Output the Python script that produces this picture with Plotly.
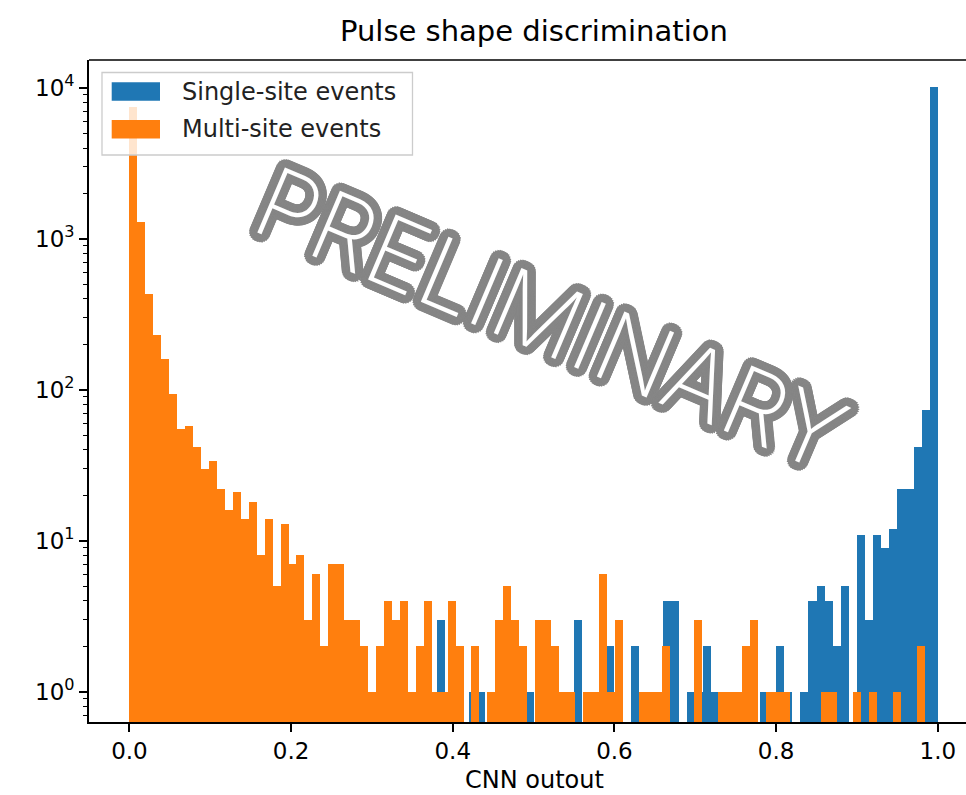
import numpy as np
import plotly.graph_objects as go

# ---------------- data ----------------
N_BINS = 100
single_site_range = (0.0, 1.0)
multi_site_range = (0.0, 0.984)

single_site_counts = [0] * N_BINS
for k, v in {38: 3, 42: 1, 43: 1, 49: 1, 55: 3, 59: 2, 60: 1, 62: 2, 66: 4, 67: 4,
             69: 1, 70: 1, 71: 2, 72: 1, 78: 1, 80: 2, 81: 1, 83: 1, 84: 4, 85: 5,
             86: 4, 87: 2, 88: 5, 90: 11, 91: 3, 92: 11, 93: 9, 94: 12, 95: 22,
             96: 22, 97: 42, 98: 74, 99: 10100}.items():
    single_site_counts[k] = v

multi_site_counts = [
    7500, 1290, 430, 231, 161, 94, 55, 58, 42, 30,
    34, 22, 16, 21, 14, 18, 8, 14, 5, 13,
    7, 8, 3, 6, 2, 7, 7, 3, 3, 2,
    1, 2, 4, 3, 4, 1, 2, 4, 1, 1,
    4, 2, 0, 2, 0, 1, 3, 5, 3, 2,
    0, 3, 3, 2, 1, 1, 0, 1, 1, 6,
    1, 3, 0, 0, 1, 1, 1, 2, 0, 0,
    0, 3, 0, 0, 1, 1, 1, 2, 3, 0,
    1, 1, 1, 0, 0, 0, 0, 1, 1, 0,
    0, 1, 0, 1, 0, 0, 1, 0, 0, 2,
]

series_names = ["Single-site events", "Multi-site events"]
x_tick_vals = [0.0, 0.2, 0.4, 0.6, 0.8, 1.0]
x_tick_text = ["0.0", "0.2", "0.4", "0.6", "0.8", "1.0"]
y_tick_vals = [1, 10, 100, 1000, 10000]
y_tick_text = ["10<sup>0</sup>", "10<sup>1</sup>", "10<sup>2</sup>", "10<sup>3</sup>", "10<sup>4</sup>"]
y_minor_vals = [m * 10 ** e for e in range(-1, 4) for m in range(2, 10) if m * 10 ** e > 0.6]

title_text = "Pulse shape discrimination"
x_label = "CNN outout"
watermark = "PRELIMINARY"

BLUE = "#1f77b4"
ORANGE = "#ff7f0e"
FONT = "DejaVu Sans"

# ---------------- layout geometry ----------------
W, H = 966, 795
ML, MR, MT, MB = 89, 0, 60, 73
PW, PH = W - ML - MR, H - MT - MB


def xp(px):
    return (px - ML) / PW


def yp(py):
    return (H - MB - py) / PH


def hist_bar(counts, rng, color, name):
    edges = np.linspace(rng[0], rng[1], len(counts) + 1)
    width = edges[1] - edges[0]
    y = [c if c > 0 else None for c in counts]
    return go.Bar(x=edges[:-1], y=y, width=width, offset=0, name=name,
                  marker=dict(color=color, line=dict(width=0)), showlegend=False)


fig = go.Figure()
fig.add_trace(hist_bar(single_site_counts, single_site_range, BLUE, series_names[0]))
fig.add_trace(hist_bar(multi_site_counts, multi_site_range, ORANGE, series_names[1]))

axis_common = dict(showgrid=False, zeroline=False, showline=True, linecolor="black",
                   linewidth=1.6, ticks="outside", ticklen=8, tickwidth=1.6,
                   tickcolor="black", tickfont=dict(family=FONT, size=23, color="black"))

fig.update_layout(
    width=W, height=H,
    margin=dict(l=ML, r=MR, t=MT, b=MB, pad=0),
    paper_bgcolor="white", plot_bgcolor="white",
    barmode="overlay", bargap=0,
    xaxis=dict(range=[-0.05, 1.0349], tickmode="array", tickvals=x_tick_vals,
               ticktext=x_tick_text, **axis_common),
    yaxis=dict(type="log", range=[-0.2, 4.185], tickmode="array", tickvals=y_tick_vals,
               ticktext=y_tick_text,
               minor=dict(ticks="outside", ticklen=4.5, tickwidth=1.2, tickcolor="black",
                          tickmode="array", tickvals=y_minor_vals),
               **axis_common),
)

shapes = []
annotations = []
# top spine
shapes.append(dict(type="line", xref="paper", yref="paper", x0=0, x1=1, y0=1, y1=1,
                   line=dict(color="black", width=1.6), layer="above"))

# legend box (matplotlib style)
shapes.append(dict(type="rect", xref="paper", yref="paper",
                   x0=xp(102), x1=xp(412.5), y0=yp(155), y1=yp(72.5),
                   fillcolor="rgba(255,255,255,0.8)", line=dict(color="#cccccc", width=1.3),
                   layer="above"))
for i, (color, name) in enumerate(zip([BLUE, ORANGE], series_names)):
    cy = 91.5 + i * 37.7
    shapes.append(dict(type="rect", xref="paper", yref="paper",
                       x0=xp(111.7), x1=xp(160), y0=yp(cy + 9.2), y1=yp(cy - 9.2),
                       fillcolor=color, line=dict(width=0), layer="above"))
    annotations.append(dict(text=name, xref="paper", yref="paper", x=xp(180), y=yp(cy),
                            xanchor="left", yanchor="middle", showarrow=False,
                            font=dict(family=FONT, size=24, color="#222222")))

# title and x label
annotations.append(dict(text=title_text, xref="paper", yref="paper", x=xp(533.5), y=yp(31),
                        xanchor="center", yanchor="middle", showarrow=False,
                        font=dict(family=FONT, size=29, color="black")))
annotations.append(dict(text=x_label, xref="paper", yref="paper", x=xp(534.5), y=yp(780),
                        xanchor="center", yanchor="middle", showarrow=False,
                        font=dict(family=FONT, size=24, color="black")))

# watermark with thick grey outline around a thin white glyph
offs = []
for r in (1.5, 3, 4.5, 6, 7.5, 8.5):
    for a in range(0, 360, 15):
        t = np.deg2rad(a)
        offs.append(f"{r*np.cos(t):.1f}px {r*np.sin(t):.1f}px 0 #868686")
annotations.append(dict(text=watermark, xref="paper", yref="paper", x=xp(551), y=yp(318),
                        xanchor="center", yanchor="middle", showarrow=False, textangle=23,
                        font=dict(family="Inter", size=97, color="white", weight=200,
                                  shadow=", ".join(offs))))

fig.update_layout(shapes=shapes, annotations=annotations)
fig.write_html("out.html")
